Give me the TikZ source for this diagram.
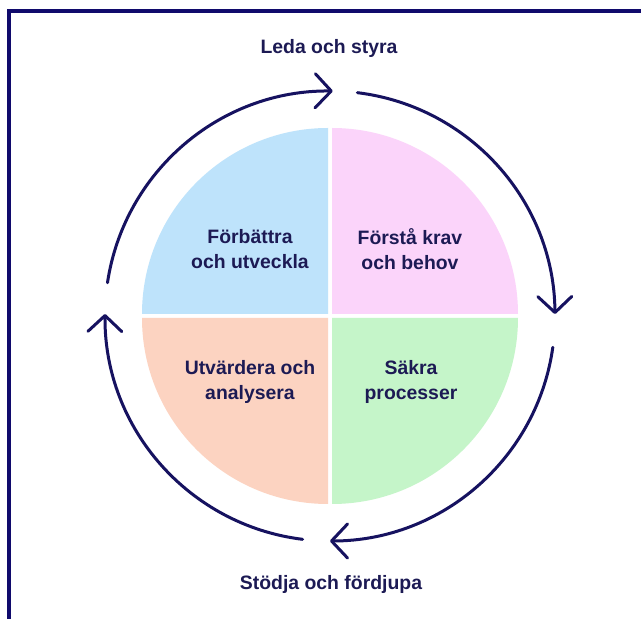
\documentclass[tikz,border=0pt]{standalone}
\usepackage{fontspec}
\setmainfont{Liberation Sans}
\newfontfamily\labfont{Liberation Sans}
\usetikzlibrary{arrows.meta}
\definecolor{framenavy}{RGB}{16,10,108}
\definecolor{arcnavy}{RGB}{22,18,96}
\definecolor{txtnavy}{RGB}{28,26,84}
\definecolor{qblue}{RGB}{190,227,251}
\definecolor{qpink}{RGB}{251,212,250}
\definecolor{qpeach}{RGB}{252,211,193}
\definecolor{qgreen}{RGB}{197,245,201}
\tikzset{
  frameline/.style={draw=framenavy, line width=4pt},
  cyc/.style={draw=arcnavy, line width=3pt, line cap=round,
    -{Straight Barb[length=16pt,width=34pt,line width=3pt,round]}},
  quadtext/.style={font=\labfont\bfseries\fontsize{19.4}{25}\selectfont, text=txtnavy, align=center},
  toptext/.style={font=\labfont\bfseries\fontsize{19.4}{25}\selectfont, text=txtnavy}
}
\begin{document}
\begin{tikzpicture}[x=1pt,y=1pt]
\useasboundingbox (0,0) rectangle (641,619);
\fill[white] (0,0) rectangle (641,619);
% frame (left and top edges visible)
\draw[frameline] (9,-10) -- (9,608) -- (660,608);
\coordinate (C) at (330,303);
% quadrants
\fill[qblue]  (328,305) -- ++(-186,0) arc[start angle=180, end angle=90, radius=186] -- cycle;
\fill[qpink]  (332,305) -- ++(0,186) arc[start angle=90, end angle=0, radius=186] -- cycle;
\fill[qgreen] (332,301) -- ++(186,0) arc[start angle=0, end angle=-90, radius=186] -- cycle;
\fill[qpeach] (328,301) -- ++(0,-186) arc[start angle=-90, end angle=-180, radius=186] -- cycle;
% cycle arcs
\draw[cyc] ([shift={(83:225)}]C) arc[start angle=83, end angle=0.5, radius=225];
\draw[cyc] ([shift={(-8:225)}]C) arc[start angle=-8, end angle=-90, radius=225];
\draw[cyc] ([shift={(-97:225)}]C) arc[start angle=-97, end angle=-180.5, radius=225];
\draw[cyc] ([shift={(171.5:225)}]C) arc[start angle=171.5, end angle=89.3, radius=225];
% texts
\node[quadtext] (q1) at (250,370) {Förbättra\\och utveckla};
\node[quadtext] (q2) at (410,370) {Förstå krav\\och behov};
\node[quadtext] (q3) at (250,237) {Utvärdera och\\analysera};
\node[quadtext] (q4) at (411,237) {Säkra\\processer};
\node[toptext] (top) at (329,570.5) {Leda och styra};
\node[toptext] (bot) at (331,34.5) {Stödja och fördjupa};
\end{tikzpicture}
\end{document}
